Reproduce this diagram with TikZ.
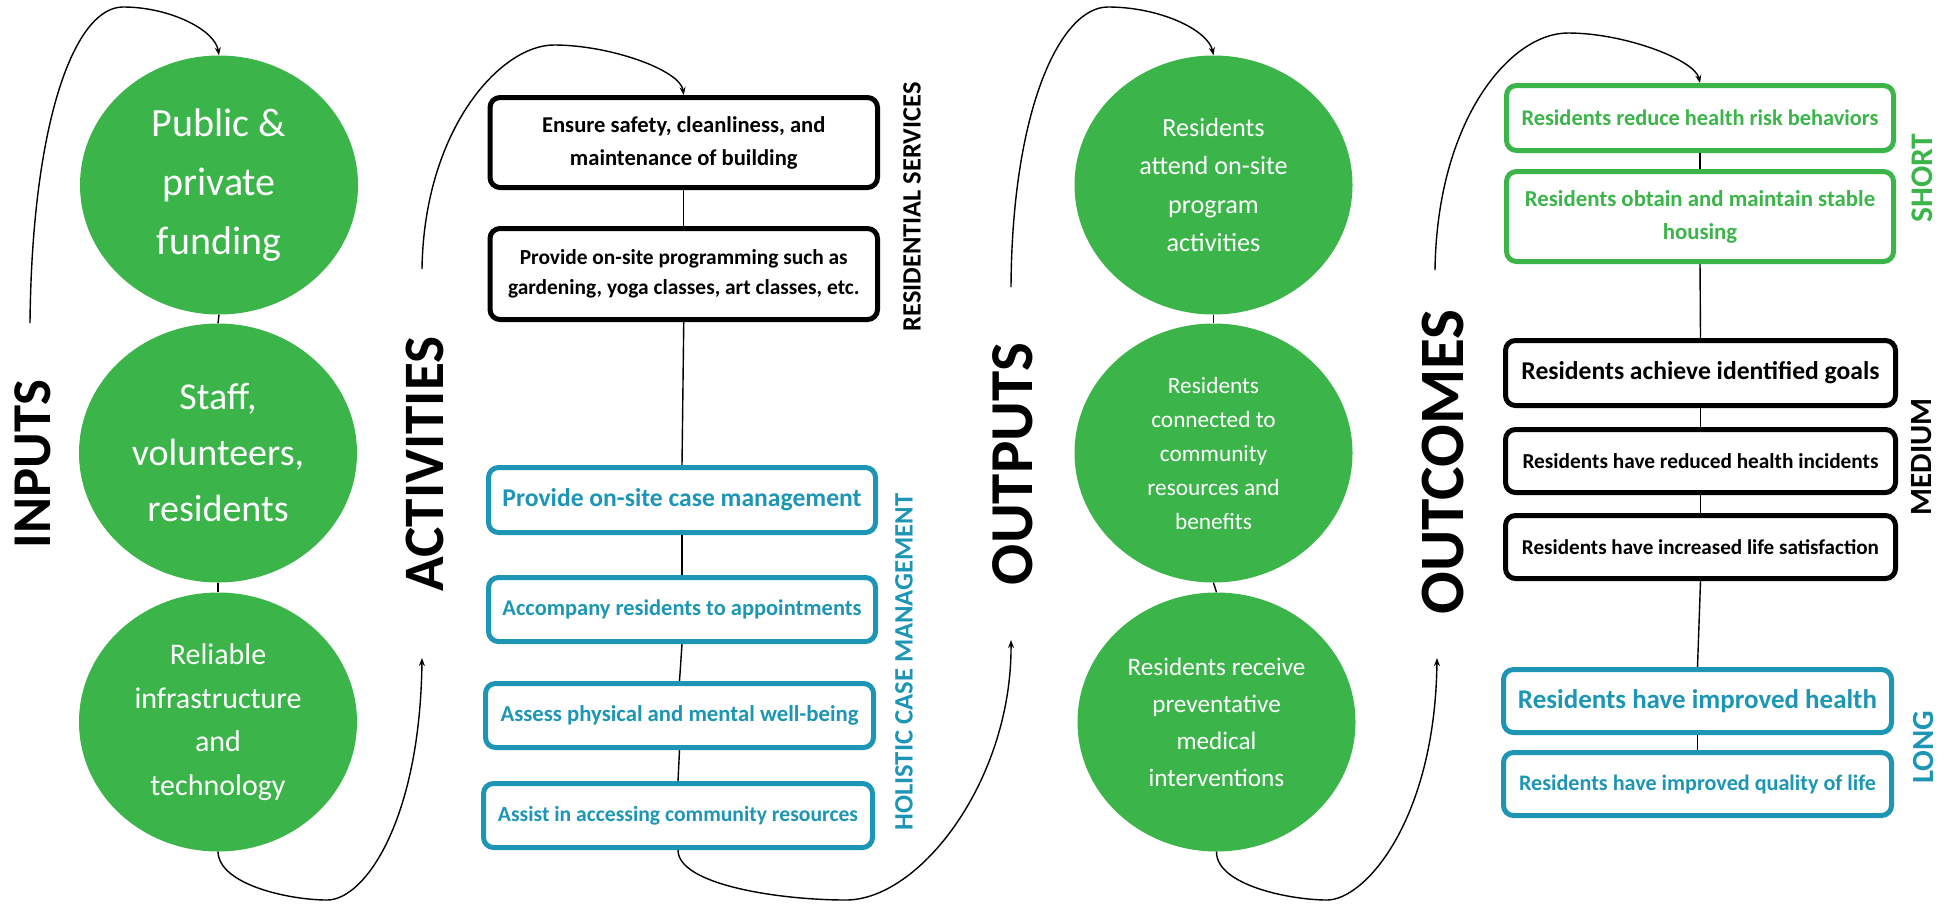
\documentclass[tikz,border=0pt]{standalone}
\usepackage{fontspec}
\setmainfont{Carlito}
\usetikzlibrary{shapes.geometric,arrows.meta}
\definecolor{lmgreen}{RGB}{59,181,74}
\definecolor{lmblue}{RGB}{28,150,180}
\newcommand{\fitto}[2]{\resizebox{#1}{!}{#2}}
\begin{document}
\begin{tikzpicture}[x=1pt,y=-1pt,
  bubble/.style={ellipse, fill=lmgreen, text=white, inner sep=0pt, minimum width=278pt, minimum height=259pt, align=center},
  box/.style={draw, line width=5pt, rounded corners=10pt, fill=white, inner sep=0pt, align=center, font=\bfseries},
  blackbox/.style={box, draw=black, text=black},
  bluebox/.style={box, draw=lmblue, text=lmblue},
  greenbox/.style={box, draw=lmgreen, text=lmgreen},
  header/.style={rotate=90, inner sep=0pt, font=\bfseries},
  side/.style={rotate=90, inner sep=0pt, font=\bfseries},
  link/.style={line width=1.4pt},
  flow/.style={line width=1.4pt, -{Stealth[length=8pt,width=6pt]}},
]
\useasboundingbox (0,0) rectangle (1948,903);

% ---------- INPUTS ----------
\node[header] (hin) at (33,464) {\fitto{168pt}{INPUTS}};
\node[bubble, font=\fontsize{40}{59}\selectfont] (in1) at (219,185) {Public \&\\private\\funding};
\node[bubble, font=\fontsize{38}{56}\selectfont] (in2) at (218,453) {Staff,\\volunteers,\\residents};
\node[bubble, font=\fontsize{30}{43.5}\selectfont] (in3) at (218,722) {Reliable\\infrastructure\\and\\technology};
\draw[link] (in1.south) -- (in2.north);
\draw[link] (in2.south) -- (in3.north);

% ---------- ACTIVITIES ----------
\node[header] (hact) at (425,464) {\fitto{255pt}{ACTIVITIES}};
\node[blackbox, minimum width=387.5pt, minimum height=90pt, font=\bfseries\fontsize{22.6}{33}\selectfont] (a1) at (683.75,142.5) {Ensure safety, cleanliness, and\\maintenance of building};
\node[blackbox, minimum width=387.5pt, minimum height=91pt, font=\bfseries\fontsize{21.4}{30}\selectfont] (a2) at (683.75,274) {Provide on-site programming such as\\gardening, yoga classes, art classes, etc.};
\node[bluebox, minimum width=387pt, minimum height=65pt] (a3) at (682,500) {\fitto{359pt}{Provide on-site case management}};
\node[bluebox, minimum width=387pt, minimum height=64pt] (a4) at (682,609.5) {\fitto{359pt}{Accompany residents to appointments}};
\node[bluebox, minimum width=388pt, minimum height=64pt] (a5) at (679.5,715.5) {\fitto{358pt}{Assess physical and mental well-being}};
\node[bluebox, minimum width=389pt, minimum height=64pt] (a6) at (678,815.5) {\fitto{360pt}{Assist in accessing community resources}};
\node[side, text=black] (lres) at (912,207) {\fitto{249pt}{RESIDENTIAL SERVICES}};
\node[side, text=lmblue] (lhol) at (904,662) {\fitto{337pt}{HOLISTIC CASE MANAGEMENT}};
\draw[link] (a1.south) -- (a2.north);
\draw[link] (a2.south) -- (a3.north);
\draw[link] (a3.south) -- (a4.north);
\draw[link] (a4.south) -- (a5.north);
\draw[link] (a5.south) -- (a6.north);

% ---------- OUTPUTS ----------
\node[header] (hout) at (1013,464) {\fitto{242pt}{OUTPUTS}};
\node[bubble, font=\fontsize{26.2}{38.3}\selectfont] (o1) at (1213.5,185) {Residents\\attend on-site\\program\\activities};
\node[bubble, font=\fontsize{23.3}{34}\selectfont] (o2) at (1213.5,453) {Residents\\connected to\\community\\resources and\\benefits};
\node[bubble, font=\fontsize{25.2}{37}\selectfont] (o3) at (1216.5,722) {Residents receive\\preventative\\medical\\interventions};
\draw[link] (o1.south) -- (o2.north);
\draw[link] (o2.south) -- (o3.north);

% ---------- OUTCOMES ----------
\node[header] (hoc) at (1443,462) {\fitto{305pt}{OUTCOMES}};
\node[greenbox, minimum width=387pt, minimum height=65pt] (bA) at (1700,118) {\fitto{357pt}{Residents reduce health risk behaviors}};
\node[greenbox, minimum width=387pt, minimum height=90pt, font=\bfseries\fontsize{22.8}{33}\selectfont] (bB) at (1700,216.5) {Residents obtain and maintain stable\\housing};
\node[blackbox, minimum width=390pt, minimum height=65pt] (bC) at (1700.5,373) {\fitto{358pt}{Residents achieve identified goals}};
\node[blackbox, minimum width=390pt, minimum height=63pt] (bD) at (1700.5,461) {\fitto{356pt}{Residents have reduced health incidents}};
\node[blackbox, minimum width=390pt, minimum height=63pt] (bE) at (1700.5,547) {\fitto{357pt}{Residents have increased life satisfaction}};
\node[bluebox, minimum width=388pt, minimum height=63pt] (bF) at (1697.5,701) {\fitto{359pt}{Residents have improved health}};
\node[bluebox, minimum width=388pt, minimum height=63pt] (bG) at (1697.5,784) {\fitto{357pt}{Residents have improved quality of life}};
\node[side, text=lmgreen] (lshort) at (1922,178) {\fitto{89pt}{SHORT}};
\node[side, text=black] (lmed) at (1922,457) {\fitto{117pt}{MEDIUM}};
\node[side, text=lmblue] (llong) at (1924,747) {\fitto{73pt}{LONG}};
\draw[link] (bA.south) -- (bB.north);
\draw[link] (bB.south) -- (bC.north);
\draw[link] (bC.south) -- (bD.north);
\draw[link] (bD.south) -- (bE.north);
\draw[link] (bE.south) -- (bF.north);
\draw[link] (bF.south) -- (bG.north);

% ---------- flow curves ----------
\coordinate (inS) at (30,323);
\coordinate (actS) at (422,269);
\coordinate (actE) at (422,658);
\coordinate (outS) at (1011,287);
\coordinate (outE) at (1011,640);
\coordinate (ocS) at (1435,270);
\coordinate (ocE) at (1437,658);

\draw[flow] (inS) .. controls (32,120) and (75,7) .. (123,7) .. controls (170,7) and (215,30) .. (in1.north);
\draw[flow] (in3.south) .. controls (219,885) and (290,900) .. (327,900) .. controls (365,900) and (420,820) .. (actE);
\draw[flow] (actS) .. controls (424,130) and (500,45) .. (554,45) .. controls (610,45) and (680,70) .. (a1.north);
\draw[flow] (a6.south) .. controls (678,885) and (780,900) .. (846,900) .. controls (920,900) and (1012,780) .. (outE);
\draw[flow] (outS) .. controls (1012,110) and (1060,7) .. (1108,7) .. controls (1160,7) and (1208,30) .. (o1.north);
\draw[flow] (o3.south) .. controls (1216,885) and (1290,900) .. (1327,900) .. controls (1365,900) and (1435,820) .. (ocE);
\draw[flow] (ocS) .. controls (1437,120) and (1510,33) .. (1568,33) .. controls (1625,33) and (1695,60) .. (bA.north);
\end{tikzpicture}
\end{document}
